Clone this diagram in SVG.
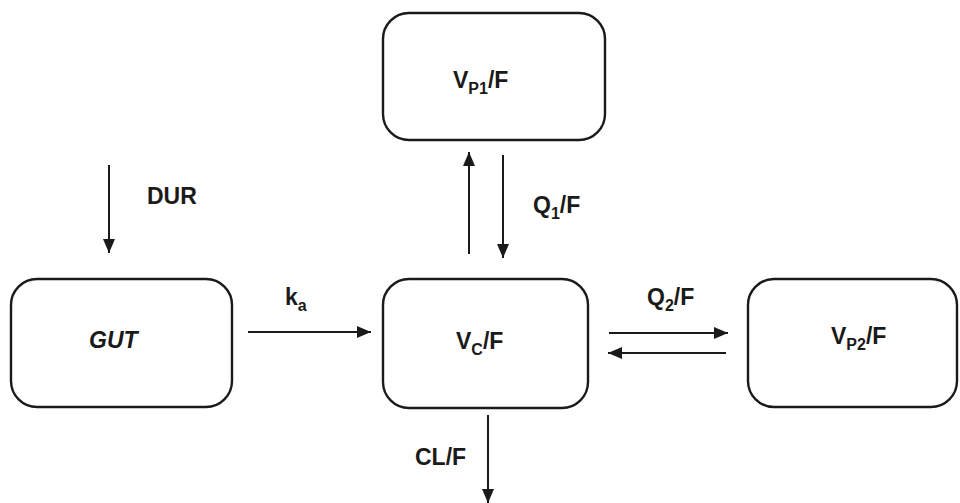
<svg xmlns="http://www.w3.org/2000/svg" width="960" height="503" viewBox="0 0 960 503">
<style>
.box{fill:#fff;stroke:#1a1a1a;stroke-width:2.4}
.ln{stroke:#1a1a1a;stroke-width:2;fill:none}
.t{font-family:"Liberation Sans",Arial,sans-serif;font-weight:bold;font-size:23px;fill:#1a1a1a}
.s{font-size:16px}
</style>
<defs>
<marker id="ah" viewBox="0 0 14 12" refX="14" refY="6" markerWidth="14" markerHeight="12" markerUnits="userSpaceOnUse" orient="auto">
<path d="M0,0 L14,6 L0,12 Z" fill="#1a1a1a"/>
</marker>
</defs>
<rect width="960" height="503" fill="#fff"/>
<g id="vp1"><rect class="box" x="383" y="13" width="222" height="127" rx="26"/>
<text class="t" x="453" y="88">V<tspan class="s" dy="6">P1</tspan><tspan dy="-6">/F</tspan></text></g>
<g id="gut"><rect class="box" x="11" y="279" width="221" height="128" rx="26"/>
<text class="t" x="89" y="348" font-style="italic">GUT</text></g>
<g id="vc"><rect class="box" x="383" y="279" width="205" height="129" rx="26"/>
<text class="t" x="456" y="349">V<tspan class="s" dy="6">C</tspan><tspan dy="-6">/F</tspan></text></g>
<g id="vp2"><rect class="box" x="748" y="279" width="209" height="128" rx="26"/>
<text class="t" x="831" y="344">V<tspan class="s" dy="6">P2</tspan><tspan dy="-6">/F</tspan></text></g>
<g id="connectors">
<line class="ln" x1="109" y1="165" x2="109" y2="253" marker-end="url(#ah)"/>
<line class="ln" x1="248" y1="332" x2="371" y2="332" marker-end="url(#ah)"/>
<line class="ln" x1="469" y1="254" x2="469" y2="152" marker-end="url(#ah)"/>
<line class="ln" x1="503" y1="155" x2="503" y2="258" marker-end="url(#ah)"/>
<line class="ln" x1="609" y1="333" x2="728" y2="333" marker-end="url(#ah)"/>
<line class="ln" x1="726" y1="353" x2="608" y2="353" marker-end="url(#ah)"/>
<line class="ln" x1="488" y1="415" x2="488" y2="503" marker-end="url(#ah)"/>
</g>
<g id="labels">
<text class="t" x="147" y="204">DUR</text>
<text class="t" x="285" y="305">k<tspan class="s" dy="6">a</tspan></text>
<text class="t" x="533" y="213">Q<tspan class="s" dy="6">1</tspan><tspan dy="-6">/F</tspan></text>
<text class="t" x="647" y="305">Q<tspan class="s" dy="6">2</tspan><tspan dy="-6">/F</tspan></text>
<text class="t" x="415" y="465">CL/F</text>
</g>
</svg>
